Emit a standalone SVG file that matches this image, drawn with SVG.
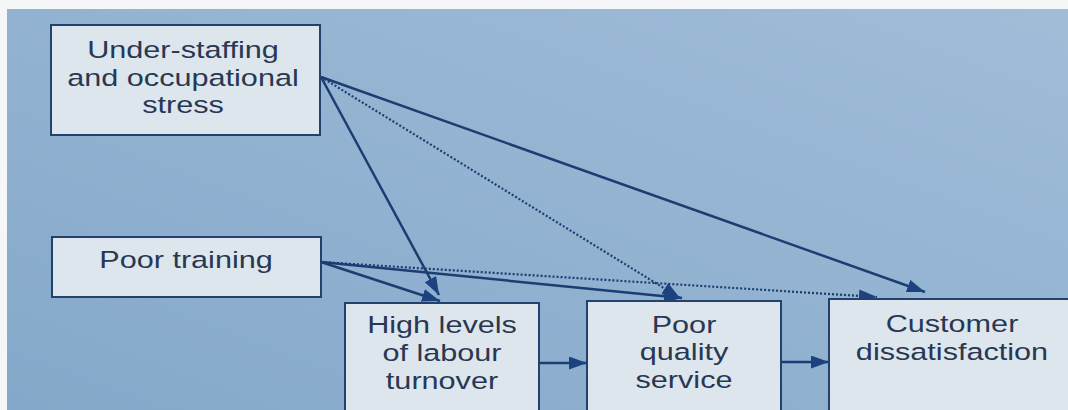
<svg xmlns="http://www.w3.org/2000/svg" width="1068" height="410" viewBox="0 0 1068 410">
  <defs>
    <linearGradient id="bg" x1="0" y1="1" x2="1" y2="0">
      <stop offset="0" stop-color="#85a8ca"/>
      <stop offset="1" stop-color="#a0bdd8"/>
    </linearGradient>
    <marker id="arrow" viewBox="0 0 18 13" refX="18" refY="6.5" markerWidth="18" markerHeight="13" markerUnits="userSpaceOnUse" orient="auto">
      <path d="M0,0 L18,6.5 L0,13 Z" fill="#1c427f"/>
    </marker>
  </defs>
  <style>
    .box { fill: #dde6ec; stroke: #24406c; stroke-width: 2; }
    .label { font-family: "Liberation Sans", Arial, sans-serif; font-size: 24.5px; fill: #283853; text-anchor: middle; }
    .solid { fill: none; stroke: #1d3d72; stroke-width: 2.5; marker-end: url(#arrow); }
    .dotted { fill: none; stroke: #1d3d72; stroke-width: 2.2; stroke-dasharray: 2 2; marker-end: url(#arrow); }
  </style>

  <!-- page margin and paper background -->
  <rect x="0" y="0" width="1068" height="410" fill="#f4f6f8"/>
  <rect x="7" y="9" width="1061" height="401" fill="url(#bg)"/>

  <g id="connectors">
    <!-- from under-staffing -->
    <line class="solid" x1="321" y1="77" x2="439" y2="295"/>
    <line class="dotted" x1="321" y1="77" x2="680" y2="298"/>
    <line class="solid" x1="321" y1="77" x2="925" y2="292"/>
    <!-- from poor training -->
    <line class="solid" x1="321" y1="262" x2="440" y2="301"/>
    <line class="solid" x1="321" y1="262" x2="682" y2="298"/>
    <line class="dotted" x1="321" y1="262" x2="877" y2="297"/>
    <!-- chain along the bottom row -->
    <line class="solid" x1="539" y1="363" x2="587" y2="363"/>
    <line class="solid" x1="781" y1="362" x2="829" y2="362"/>
  </g>

  <g id="understaffing">
    <rect class="box" x="51" y="25" width="269" height="110"/>
    <text class="label" transform="translate(183,58) scale(1.25,1)">Under-staffing</text>
    <text class="label" transform="translate(183,86) scale(1.25,1)">and occupational</text>
    <text class="label" transform="translate(183,113) scale(1.25,1)">stress</text>
  </g>

  <g id="poor-training">
    <rect class="box" x="52" y="237" width="269" height="60"/>
    <text class="label" transform="translate(186,268) scale(1.25,1)">Poor training</text>
  </g>

  <g id="labour-turnover">
    <rect class="box" x="345" y="303" width="194" height="120"/>
    <text class="label" transform="translate(442,333) scale(1.25,1)">High levels</text>
    <text class="label" transform="translate(442,361) scale(1.25,1)">of labour</text>
    <text class="label" transform="translate(442,389) scale(1.25,1)">turnover</text>
  </g>

  <g id="poor-quality">
    <rect class="box" x="587" y="301" width="194" height="122"/>
    <text class="label" transform="translate(684,333) scale(1.25,1)">Poor</text>
    <text class="label" transform="translate(684,360) scale(1.25,1)">quality</text>
    <text class="label" transform="translate(684,388) scale(1.25,1)">service</text>
  </g>

  <g id="customer">
    <rect class="box" x="829" y="299" width="260" height="124"/>
    <text class="label" transform="translate(952,332) scale(1.25,1)">Customer</text>
    <text class="label" transform="translate(952,360) scale(1.25,1)">dissatisfaction</text>
  </g>
</svg>
